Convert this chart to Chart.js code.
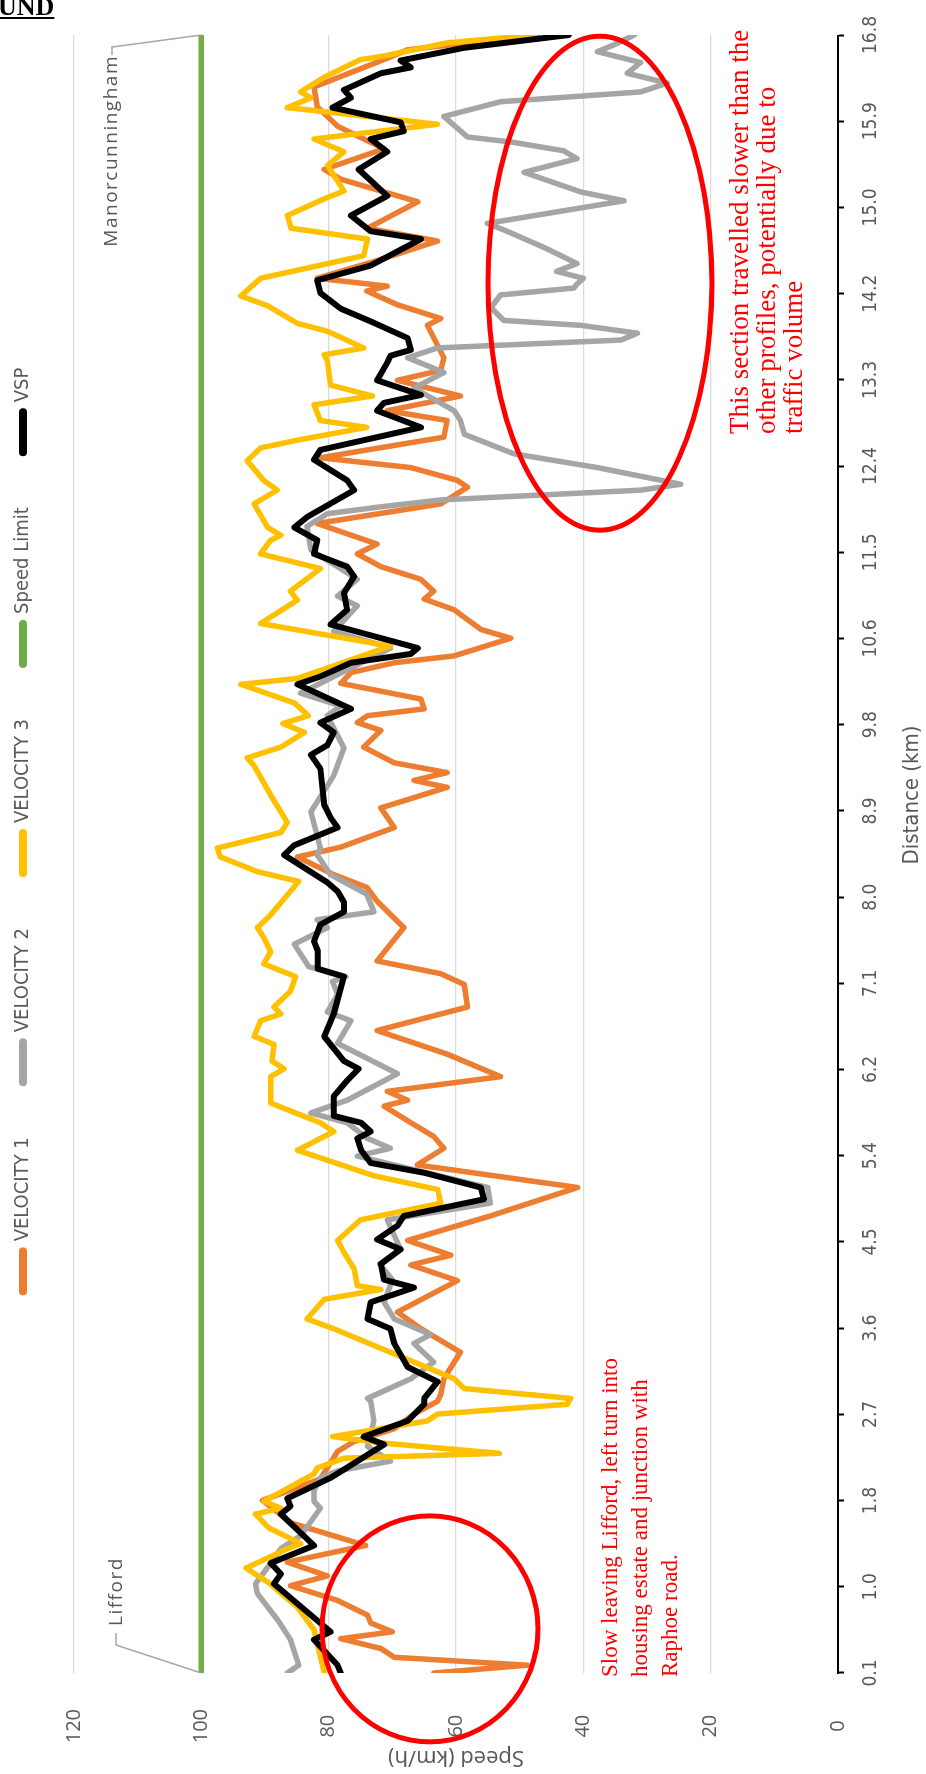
<!DOCTYPE html>
<html>
<head>
<meta charset="utf-8">
<script src="https://cdn.jsdelivr.net/npm/chart.js@4.4.1/dist/chart.umd.min.js"></script>
<style>
  html, body { margin: 0; padding: 0; background: #fff; }
  body { width: 926px; height: 1774px; overflow: hidden; position: relative; }
  /* chart is drawn landscape, then turned a quarter to the left */
  #wrap { position: absolute; left: 0; top: 0; width: 1774px; height: 926px;
          transform-origin: 0 0; transform: translate(0, 1774px) rotate(-90deg); }
  #head { position: absolute; left: -2px; top: -8px; font: bold 26px "Liberation Serif", serif;
          text-decoration: underline; color: #000; }
</style>
</head>
<body>
<div id="wrap"><canvas id="speedChart" width="1774" height="926"></canvas></div>
<div id="head">UND</div>
<script>
// --- Values: [distance km, speed km/h] ---
const TICK_LABELS = ['0.1','1.0','1.8','2.7','3.6','4.5','5.4','6.2','7.1','8.0','8.9','9.8','10.6','11.5','12.4','13.3','14.2','15.0','15.9','16.8'];
const SPEED_TICKS = [0, 20, 40, 60, 80, 100, 120];
const SPEED_LIMIT = [[0.1, 100], [16.8, 100]];

const VELOCITY_1 = [[0.10,63.5],[0.18,48.8],[0.26,69.7],[0.35,71.8],[0.45,78.1],[0.52,70.0],[0.61,73.4],[0.69,73.9],[0.84,78.6],[0.99,86.0],[1.09,80.2],[1.23,86.5],[1.40,74.2],[1.63,85.9],[1.86,90.4],[1.99,84.9],[2.08,81.3],[2.36,78.6],[2.46,76.0],[2.59,69.7],[2.74,66.6],[2.87,62.9],[2.94,62.4],[3.10,61.9],[3.37,59.3],[3.61,65.5],[3.78,69.2],[4.10,59.8],[4.26,67.1],[4.36,60.8],[4.51,67.6],[4.76,54.6],[5.05,40.9],[5.28,66.1],[5.45,61.9],[5.57,63.5],[5.71,67.1],[5.88,71.3],[5.94,67.6],[6.03,70.8],[6.18,53.0],[6.41,61.4],[6.65,72.4],[6.89,58.2],[7.12,58.7],[7.23,62.4],[7.36,72.4],[7.70,68.2],[7.97,72.4],[8.11,74.0],[8.24,79.2],[8.42,84.9],[8.52,78.1],[8.72,69.7],[8.92,71.8],[9.13,61.4],[9.20,66.6],[9.28,61.4],[9.38,69.7],[9.54,74.5],[9.71,71.8],[9.79,75.5],[9.86,73.9],[9.93,65.0],[10.03,65.5],[10.19,78.1],[10.30,76.5],[10.40,69.7],[10.47,60.3],[10.65,51.4],[10.74,56.1],[10.94,60.3],[11.05,65.0],[11.13,63.5],[11.25,65.5],[11.38,71.8],[11.51,75.5],[11.61,72.4],[11.82,81.8],[12.02,62.4],[12.19,58.2],[12.26,59.8],[12.39,67.1],[12.49,81.3],[12.70,61.9],[12.87,61.4],[12.97,70.8],[13.12,59.3],[13.28,69.2],[13.38,62.4],[13.51,61.9],[13.84,64.5],[13.91,62.4],[14.05,69.2],[14.19,74.0],[14.24,70.8],[14.32,81.8],[14.49,72.9],[14.70,62.9],[14.83,73.9],[15.10,66.0],[15.33,78.1],[15.43,80.7],[15.64,71.3],[15.87,78.6],[16.07,81.8],[16.27,82.3],[16.55,71.3],[16.65,67.6],[16.80,47.2]];

const VELOCITY_2 = [[0.10,86.5],[0.18,84.7],[0.44,86.0],[0.64,88.0],[0.91,91.2],[1.01,91.5],[1.22,89.1],[1.37,87.5],[1.50,84.4],[1.78,81.3],[1.85,82.3],[1.96,82.3],[2.09,81.3],[2.16,78.6],[2.26,70.3],[2.41,73.9],[2.67,72.9],[2.87,73.4],[2.90,73.9],[3.10,67.1],[3.27,63.5],[3.46,66.6],[3.55,64.0],[3.71,69.7],[3.88,71.3],[4.11,70.0],[4.27,72.0],[4.42,68.7],[4.72,70.8],[4.89,54.6],[5.05,55.0],[5.37,75.5],[5.45,70.3],[5.55,73.9],[5.71,77.1],[5.81,82.8],[5.94,77.1],[6.21,69.2],[6.52,78.6],[6.75,76.5],[6.84,80.2],[7.02,78.6],[7.15,79.4],[7.20,77.3],[7.30,83.1],[7.53,85.4],[7.70,80.2],[7.78,81.8],[7.86,72.9],[8.04,74.0],[8.24,79.7],[8.44,81.8],[8.51,81.3],[8.88,82.8],[9.25,79.2],[9.53,77.6],[9.86,80.2],[9.96,78.1],[10.09,84.4],[10.55,70.3],[10.72,79.2],[10.98,75.5],[11.08,78.6],[11.25,75.5],[11.38,78.6],[11.55,82.8],[11.79,83.4],[11.92,80.2],[11.99,71.8],[12.06,62.4],[12.16,31.0],[12.22,24.7],[12.39,37.8],[12.53,50.9],[12.73,58.7],[12.87,59.3],[12.97,60.3],[13.20,66.6],[13.36,61.9],[13.51,67.6],[13.61,62.9],[13.69,34.1],[13.76,31.5],[13.84,40.4],[13.89,52.5],[14.02,54.5],[14.15,53.0],[14.22,41.5],[14.26,41.0],[14.32,40.0],[14.39,44.2],[14.47,41.0],[14.62,45.7],[14.80,52.0],[14.88,55.1],[15.11,33.6],[15.20,40.4],[15.40,49.3],[15.54,41.0],[15.62,43.1],[15.71,51.4],[15.76,58.2],[15.97,61.9],[16.12,53.0],[16.22,31.0],[16.31,26.8],[16.41,33.1],[16.52,31.0],[16.63,37.8],[16.70,35.2],[16.80,32.0]];

const VELOCITY_3 = [[0.10,80.7],[0.54,82.3],[0.77,84.9],[1.02,89.4],[1.17,93.0],[1.38,86.0],[1.42,84.4],[1.58,89.4],[1.72,91.5],[1.78,87.5],[1.85,90.2],[2.13,82.3],[2.19,81.8],[2.29,77.6],[2.34,53.2],[2.44,70.8],[2.51,79.4],[2.67,64.5],[2.74,62.9],[2.84,42.5],[2.90,42.0],[3.00,58.7],[3.10,60.3],[3.61,79.2],[3.71,83.4],[3.91,80.7],[4.01,71.8],[4.05,75.5],[4.22,76.0],[4.39,77.6],[4.51,78.6],[4.72,75.0],[4.89,62.4],[5.03,62.9],[5.17,72.9],[5.43,84.9],[5.62,79.2],[5.71,81.3],[5.91,89.1],[6.18,89.1],[6.26,87.0],[6.34,88.9],[6.51,88.6],[6.59,91.7],[6.75,90.7],[6.82,87.5],[6.89,88.6],[7.05,86.0],[7.20,85.2],[7.33,90.2],[7.45,89.1],[7.60,90.2],[7.70,91.2],[7.83,89.1],[8.17,84.7],[8.27,91.2],[8.42,97.0],[8.51,97.5],[8.67,87.5],[8.77,86.5],[9.05,89.1],[9.35,91.7],[9.43,92.8],[9.54,87.5],[9.69,83.8],[9.78,87.2],[9.86,83.2],[9.99,85.4],[10.18,93.8],[10.24,84.9],[10.57,70.3],[10.80,90.7],[11.04,84.9],[11.13,86.0],[11.36,81.3],[11.51,90.7],[11.65,89.1],[11.70,87.5],[11.78,89.6],[12.02,91.7],[12.16,88.1],[12.26,90.2],[12.46,92.8],[12.59,90.7],[12.67,84.9],[12.80,74.0],[12.87,81.3],[13.03,82.3],[13.12,73.1],[13.23,79.7],[13.48,80.2],[13.54,80.7],[13.61,74.5],[13.78,80.2],[13.86,84.9],[14.04,89.6],[14.14,93.8],[14.32,90.7],[14.55,74.5],[14.72,73.9],[14.83,85.9],[14.96,86.5],[15.13,80.7],[15.21,77.6],[15.47,80.2],[15.61,77.6],[15.74,82.3],[15.89,62.9],[16.06,86.5],[16.16,82.8],[16.22,84.4],[16.37,80.7],[16.55,75.0],[16.58,71.8],[16.72,61.4],[16.80,47.7]];

const VSP = [[0.10,78.1],[0.18,78.6],[0.44,82.3],[0.52,79.7],[1.01,88.6],[1.11,87.5],[1.22,89.1],[1.40,82.3],[1.72,87.5],[1.80,86.0],[1.88,86.5],[2.09,79.7],[2.43,71.3],[2.51,74.5],[2.67,67.6],[2.84,65.0],[2.90,65.0],[3.07,62.9],[3.22,67.6],[3.46,69.7],[3.61,70.3],[3.71,73.9],[3.88,73.4],[4.03,66.6],[4.11,71.3],[4.27,71.8],[4.42,68.7],[4.52,72.4],[4.66,69.2],[4.76,68.2],[4.93,55.6],[5.05,56.1],[5.20,65.0],[5.30,73.4],[5.43,74.9],[5.55,75.5],[5.62,73.4],[5.71,74.9],[5.78,79.2],[5.98,79.2],[6.14,77.1],[6.26,75.3],[6.34,77.6],[6.59,80.7],[6.82,79.2],[7.20,77.6],[7.28,81.7],[7.46,81.7],[7.56,82.3],[7.73,81.3],[7.86,77.6],[7.96,77.6],[8.07,78.6],[8.16,80.2],[8.44,87.0],[8.54,85.4],[8.72,78.6],[8.82,79.7],[8.95,80.7],[9.32,81.3],[9.46,82.8],[9.56,80.2],[9.69,79.2],[9.79,81.3],[9.93,76.5],[10.18,84.9],[10.26,81.3],[10.40,76.5],[10.49,67.1],[10.55,66.0],[10.79,79.7],[10.94,77.1],[11.11,77.6],[11.28,76.0],[11.38,77.1],[11.51,82.3],[11.65,81.8],[11.78,85.4],[11.89,83.3],[12.16,76.0],[12.26,77.1],[12.47,82.3],[12.57,81.3],[12.80,65.5],[12.97,72.4],[13.05,71.3],[13.13,65.5],[13.28,72.4],[13.46,70.8],[13.53,70.3],[13.59,67.1],[13.71,67.6],[13.88,73.4],[14.01,78.1],[14.17,81.3],[14.30,81.8],[14.45,73.4],[14.72,65.5],[14.80,73.4],[14.96,76.5],[15.16,70.8],[15.43,75.3],[15.61,70.8],[15.74,73.4],[15.82,68.2],[15.91,68.7],[16.06,79.4],[16.16,76.5],[16.24,77.6],[16.41,71.8],[16.47,67.1],[16.54,68.7],[16.67,58.7],[16.80,42.3]];

// --- layout of the (unrotated) chart, px ---
const PLOT = { left: 101, right: 1749, top: 74, bottom: 838 };
const LEGEND_SHIFT = 70;
const LEGEND_PAD = 55;
const NARROW = '"Liberation Sans Narrow", "DejaVu Sans Condensed", sans-serif';
const WIDE = '"Open Sans", "Noto Sans", sans-serif';
const GREY_TEXT = '#595959';

const toXY = arr => arr.map(([x, y]) => ({ x, y }));

function series(label, data, color, width, order) {
  return { label, data: toXY(data), borderColor: color, backgroundColor: color, borderWidth: width,
           pointRadius: 0, tension: 0, borderJoinStyle: 'round', borderCapStyle: 'round', order };
}

// force the chart area to the same box as the picture
const fixLayout = {
  id: 'fixLayout',
  beforeUpdate(chart) {
    const lg = chart.legend;
    if (lg && !lg._fixed) {
      const fit = lg.fit;
      lg.fit = function () { fit.call(this); this.height = PLOT.top; };
      lg._fixed = true;
    }
  },
  afterLayout(chart) {
    const lg = chart.legend;
    lg.left += LEGEND_SHIFT;
    lg.right += LEGEND_SHIFT;
    lg.top = 13 - LEGEND_PAD;   // keep row centre near the top edge
  }
};

// callouts, red ellipses and notes
const notes = {
  id: 'notes',
  afterDraw(chart) {
    const { ctx, scales: { x, y } } = chart;
    ctx.save();
    ctx.font = '19px ' + WIDE;
    ctx.fillStyle = GREY_TEXT;
    ctx.strokeStyle = '#A6A6A6';
    ctx.lineWidth = 1.5;
    ctx.textBaseline = 'middle';
    ctx.letterSpacing = '1.5px';

    // Lifford callout
    let ax = x.getPixelForValue(0.1), ay = y.getPixelForValue(100);
    ctx.beginPath();
    ctx.moveTo(ax, ay); ctx.lineTo(ax + 28, 116); ctx.lineTo(ax + 40, 116);
    ctx.stroke();
    ctx.textAlign = 'left';
    ctx.fillText('Lifford', ax + 47, 117);

    // Manorcunningham callout
    ax = x.getPixelForValue(16.8);
    ctx.beginPath();
    ctx.moveTo(ax, ay); ctx.lineTo(ax - 12, 112); ctx.lineTo(ax - 20, 112);
    ctx.stroke();
    ctx.textAlign = 'right';
    ctx.fillText('Manorcunningham', ax - 20, 112);

    // x axis title, set right of centre as in the picture
    ctx.letterSpacing = '0px';
    ctx.textAlign = 'center';
    ctx.font = '22px ' + NARROW;
    ctx.fillText('Distance (km)', 979, 912);

    // red ellipses
    ctx.strokeStyle = '#FF0000';
    ctx.lineWidth = 5;
    ctx.beginPath();
    ctx.ellipse(x.getPixelForValue(0.55), y.getPixelForValue(64.1), 113, 108, 0, 0, Math.PI * 2);
    ctx.stroke();
    ctx.beginPath();
    ctx.ellipse(x.getPixelForValue(14.27), y.getPixelForValue(37.4), 247, 112, 0, 0, Math.PI * 2);
    ctx.stroke();

    // red notes
    ctx.fillStyle = '#FF0000';
    ctx.textAlign = 'left';
    ctx.font = '23px "Liberation Serif", serif';
    ['Slow leaving Lifford, left turn into', 'housing estate and junction with', 'Raphoe road.']
      .forEach((t, i) => ctx.fillText(t, 97, 611 + i * 30));
    ctx.font = '27px "Liberation Serif", serif';
    ['This section travelled slower than the', 'other profiles, potentially due to', 'traffic volume']
      .forEach((t, i) => ctx.fillText(t, 1340, 741 + i * 27));
    ctx.restore();
  }
};

new Chart(document.getElementById('speedChart'), {
  type: 'line',
  data: {
    datasets: [
      series('VELOCITY 1', VELOCITY_1, '#ED7D31', 5.5, 5),
      series('VELOCITY 2', VELOCITY_2, '#A5A5A5', 5.5, 4),
      series('VELOCITY 3', VELOCITY_3, '#FFC000', 5.5, 3),
      series('Speed Limit', SPEED_LIMIT, '#70AD47', 5.5, 2),
      series('VSP', VSP, '#000000', 6, 1)
    ]
  },
  options: {
    responsive: false,
    animation: false,
    devicePixelRatio: 1,
    layout: { padding: { left: 0, right: 1774 - PLOT.right, top: 0, bottom: 0 } },
    plugins: {
      tooltip: { enabled: false },
      legend: {
        position: 'top',
        labels: {
          usePointStyle: true, pointStyle: 'line', pointStyleWidth: 40, boxHeight: 8,
          font: { family: NARROW, size: 20 }, color: GREY_TEXT, padding: LEGEND_PAD,
          sort: (a, b) => a.datasetIndex - b.datasetIndex,
          generateLabels(chart) {
            const items = Chart.defaults.plugins.legend.labels.generateLabels(chart);
            items.forEach(it => { it.lineWidth = 8; it.lineCap = 'round'; });
            return items;
          }
        }
      }
    },
    scales: {
      x: {
        type: 'linear', min: 0.1, max: 16.8,
        afterBuildTicks(s) {
          s.ticks = TICK_LABELS.map((_, i) => ({ value: 0.1 + i * 16.7 / (TICK_LABELS.length - 1) }));
        },
        afterFit(s) { s.height = 926 - PLOT.bottom; },
        ticks: {
          autoSkip: false, maxRotation: 0, padding: 16,
          font: { family: NARROW, size: 19 }, color: GREY_TEXT,
          callback: (v, i) => TICK_LABELS[i]
        },
        grid: { drawOnChartArea: false, drawTicks: true, tickLength: 6, tickColor: '#000', tickWidth: 2 },
        border: { display: true, color: '#000', width: 2 },
        title: { display: false }
      },
      y: {
        min: 0, max: 120,
        afterBuildTicks(s) { s.ticks = SPEED_TICKS.map(v => ({ value: v })); },
        afterFit(s) { s.width = PLOT.left; },
        ticks: { padding: 36, crossAlign: 'center', font: { family: WIDE, size: 20 }, color: GREY_TEXT },
        grid: { color: '#D9D9D9', lineWidth: 1.3, drawTicks: false },
        border: { display: false },
        title: { display: true, text: 'Speed (km/h)', font: { family: WIDE, size: 22 }, color: GREY_TEXT,
                 padding: { top: 4, bottom: 0 } }
      }
    }
  },
  plugins: [fixLayout, notes]
});
</script>
</body>
</html>
